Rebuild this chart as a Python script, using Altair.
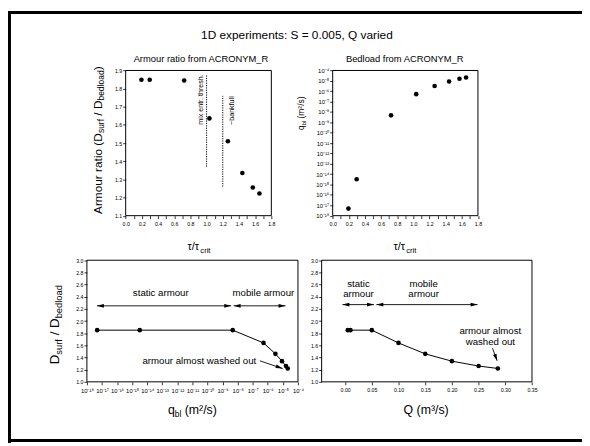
import altair as alt
import pandas as pd

# ---------------- values ----------------
tau_top = [0.195, 0.297, 0.723, 1.035, 1.263, 1.442, 1.571, 1.653]
armour_ratio_top = [1.849, 1.849, 1.845, 1.636, 1.510, 1.335, 1.255, 1.222]
bedload_top = [4.8e-18, 3.2e-15, 4.7e-9, 5.2e-7, 3.2e-6, 8.7e-6, 1.6e-5, 2.1e-5]
qbl_bottom = [4.8e-18, 3.2e-15, 4.7e-9, 5.2e-7, 3.2e-6, 8.7e-6, 1.6e-5, 2.1e-5]
armour_ratio_qbl = [1.85, 1.85, 1.85, 1.64, 1.46, 1.34, 1.26, 1.22]
discharge_Q = [0.005, 0.010, 0.05, 0.10, 0.15, 0.20, 0.25, 0.286]
armour_ratio_Q = [1.85, 1.85, 1.85, 1.64, 1.46, 1.34, 1.26, 1.22]

# axis ticks
tick_tau = [round(0.1 * i, 1) for i in range(19)]
tick_ratio_top = [round(1.1 + 0.1 * i, 1) for i in range(9)]
tick_ratio_bottom = [round(1.0 + 0.2 * i, 1) for i in range(11)]
log_exponents = list(range(-18, -3))
tick_log = [float(f"1e{e}") for e in log_exponents]
tick_Q = [round(0.05 * i, 2) for i in range(8)]

# annotations (data coordinates of their panels)
thresh_tau = [1.0, 1.2]
thresh_lo = [1.37, 1.26]
thresh_hi = [1.876, 1.76]
thresh_text = ["mix entr. thresh.", "~bankfull"]
thresh_text_tau = [0.934, 1.312]
thresh_text_y = [1.74, 1.679]

p3_arrow_from = [10 ** -17.33, 10 ** -8.26]
p3_arrow_to = [10 ** -8.43, 10 ** -4.83]
p3_arrow_y = [2.25, 2.25]
p3_labels = ["static armour", "mobile armour", "armour almost washed out"]
p3_label_x = [10 ** -13.1, 10 ** -6.29, 10 ** -10.54]
p3_label_y = [2.46, 2.46, 1.34]
p3_wash_from = [10 ** -6.53, 1.346]
p3_wash_to = [10 ** -5.02, 1.219]

p4_arrow_from = [-0.005, 0.0586]
p4_arrow_to = [0.054, 0.248]
p4_arrow_y = [2.27, 2.27]
p4_labels = ["static", "armour", "mobile", "armour", "armour almost", "washed out"]
p4_label_x = [0.025, 0.025, 0.147, 0.147, 0.272, 0.272]
p4_label_y = [2.606, 2.444, 2.606, 2.444, 1.832, 1.649]
p4_wash_from = [0.276, 1.552]
p4_wash_to = [0.2847, 1.346]

# ---------------- layout ----------------
W, H = 582, 438
FONT = "Liberation Sans"
P = {
    "p1": dict(x0=119.3, x1=267.0, yb=207.5, yt=60.3),
    "p2": dict(x0=329.2, x1=476.5, yb=207.5, yt=60.3),
    "p3": dict(x0=80.0, x1=294.0, yb=376.0, yt=252.7),
    "p4": dict(x0=318.0, x1=531.3, yb=376.0, yt=252.7),
}


def lin(dom, rng):
    return alt.Scale(domain=dom, range=rng, nice=False, zero=False)


def logs(dom, rng):
    return alt.Scale(type="log", domain=dom, range=rng, nice=False)


S = {
    "p1": (lin([0, 1.8], [P["p1"]["x0"], P["p1"]["x1"]]), lin([1.1, 1.9], [P["p1"]["yb"], P["p1"]["yt"]])),
    "p2": (lin([0, 1.8], [P["p2"]["x0"], P["p2"]["x1"]]), logs([1e-18, 1e-4], [P["p2"]["yb"], P["p2"]["yt"]])),
    "p3": (logs([1e-18, 1e-4], [P["p3"]["x0"], P["p3"]["x1"]]), lin([1.0, 3.0], [P["p3"]["yb"], P["p3"]["yt"]])),
    "p4": (lin([-0.044, 0.35], [P["p4"]["x0"], P["p4"]["x1"]]), lin([1.0, 3.0], [P["p4"]["yb"], P["p4"]["yt"]])),
}
DOM = {
    "p1": ([0, 1.8], [1.1, 1.9]),
    "p2": ([0, 1.8], [1e-18, 1e-4]),
    "p3": ([1e-18, 1e-4], [1.0, 3.0]),
    "p4": ([-0.044, 0.35], [1.0, 3.0]),
}

SUP = str.maketrans("-0123456789", "⁻⁰¹²³⁴⁵⁶⁷⁸⁹")
log_expr = "'10" + str(log_exponents[-1]).translate(SUP) + "'"
for e in reversed(log_exponents[:-1]):
    log_expr = f"datum.value < {10 ** (e + 0.5):.3e} ? '10{str(e).translate(SUP)}' : ({log_expr})"

AX = dict(grid=False, domain=False, ticks=True, tickSize=3, tickWidth=0.8, tickColor="black",
          labelColor="black", labelFont=FONT, labelOverlap=False,
          labelFlush=False, labelBound=False, title=None)


def xaxis(pn, values, fs=5.3, **kw):
    return alt.Axis(orient="bottom", offset=P[pn]["yb"] - H, values=values, labelPadding=2.5,
                    labelFontSize=fs, **AX, **kw)


def yaxis(pn, values, fs=5.3, **kw):
    return alt.Axis(orient="left", offset=-P[pn]["x0"], values=values, labelPadding=1,
                    labelFontSize=fs, **AX, **kw)


tau_expr = "round(datum.value*10) % 2 == 0 ? format(datum.value, '.1f') : ''"

layers = []

# ---- panel frames ----
for pn in ["p1", "p2", "p3", "p4"]:
    (xd, yd), (xs, ys) = DOM[pn], S[pn]
    fdf = pd.DataFrame({"a": [xd[0]], "b": [xd[1]], "c": [yd[0]], "d": [yd[1]]})
    layers.append(alt.Chart(fdf).mark_rect(filled=False, stroke="black", strokeWidth=1).encode(
        x=alt.X("a:Q", scale=xs, axis=None), x2="b:Q",
        y=alt.Y("c:Q", scale=ys, axis=None), y2="d:Q"))

# ---- panel 1: armour ratio vs tau ----
x1s, y1s = S["p1"]
d1 = pd.DataFrame({"tau": tau_top, "ratio": armour_ratio_top})
layers.append(alt.Chart(d1).mark_circle(size=22, color="black", opacity=1).encode(
    x=alt.X("tau:Q", scale=x1s, axis=xaxis("p1", tick_tau, labelExpr=tau_expr)),
    y=alt.Y("ratio:Q", scale=y1s, axis=yaxis("p1", tick_ratio_top, format=".1f"))))
dth = pd.DataFrame({"tau": thresh_tau, "lo": thresh_lo, "hi": thresh_hi})
layers.append(alt.Chart(dth).mark_rule(color="black", strokeWidth=1, strokeDash=[1.2, 1.2]).encode(
    x=alt.X("tau:Q", scale=x1s, axis=None),
    y=alt.Y("lo:Q", scale=y1s, axis=None), y2="hi:Q"))
dtt = pd.DataFrame({"tau": thresh_text_tau, "y": thresh_text_y, "t": thresh_text})
layers.append(alt.Chart(dtt).mark_text(angle=270, align="center", baseline="middle", font=FONT,
                                       fontSize=7.2, color="black").encode(
    x=alt.X("tau:Q", scale=x1s, axis=None), y=alt.Y("y:Q", scale=y1s, axis=None), text="t:N"))

# ---- panel 2: bedload vs tau ----
x2s, y2s = S["p2"]
d2 = pd.DataFrame({"tau": tau_top, "qbl": bedload_top})
layers.append(alt.Chart(d2).mark_circle(size=22, color="black", opacity=1).encode(
    x=alt.X("tau:Q", scale=x2s, axis=xaxis("p2", tick_tau, labelExpr=tau_expr)),
    y=alt.Y("qbl:Q", scale=y2s, axis=yaxis("p2", tick_log, fs=6, labelExpr=log_expr))))

ARROW = "M 0 0 L -2 -0.55 L -2 0.55 Z"


def arrow_layers(xs, ys, x_from, x_to, y_from, y_to, heads):
    df = pd.DataFrame({"x": x_from, "x2": x_to, "y": y_from, "y2": y_to})
    out = [alt.Chart(df).mark_rule(color="black", strokeWidth=0.9).encode(
        x=alt.X("x:Q", scale=xs, axis=None), x2="x2:Q",
        y=alt.Y("y:Q", scale=ys, axis=None), y2="y2:Q")]
    hdf = pd.DataFrame(heads, columns=["x", "y", "ang"])
    out.append(alt.Chart(hdf).mark_point(shape=ARROW, filled=True, size=49, color="black",
                                         opacity=1, strokeWidth=0).encode(
        x=alt.X("x:Q", scale=xs, axis=None), y=alt.Y("y:Q", scale=ys, axis=None),
        angle=alt.Angle("ang:Q", scale=None)))
    return out


# ---- panel 3: armour ratio vs qbl ----
x3s, y3s = S["p3"]
d3 = pd.DataFrame({"qbl": qbl_bottom, "ratio": armour_ratio_qbl})
layers.append(alt.Chart(d3).mark_line(color="black", strokeWidth=1).encode(
    x=alt.X("qbl:Q", scale=x3s, axis=None), y=alt.Y("ratio:Q", scale=y3s, axis=None)))
layers.append(alt.Chart(d3).mark_circle(size=22, color="black", opacity=1).encode(
    x=alt.X("qbl:Q", scale=x3s, axis=xaxis("p3", tick_log, fs=6, labelExpr=log_expr)),
    y=alt.Y("ratio:Q", scale=y3s, axis=yaxis("p3", tick_ratio_bottom, format=".1f"))))
heads3 = []
for a, b, y in zip(p3_arrow_from, p3_arrow_to, p3_arrow_y):
    heads3 += [[a, y, 180], [b, y, 0]]
heads3.append([p3_wash_to[0], p3_wash_to[1], 18.6])
layers += arrow_layers(x3s, y3s, p3_arrow_from + [p3_wash_from[0]], p3_arrow_to + [p3_wash_to[0]],
                       p3_arrow_y + [p3_wash_from[1]], p3_arrow_y + [p3_wash_to[1]], heads3)
d3t = pd.DataFrame({"x": p3_label_x, "y": p3_label_y, "t": p3_labels})
layers.append(alt.Chart(d3t).mark_text(align="center", baseline="middle", font=FONT, fontSize=9.8,
                                       color="black").encode(
    x=alt.X("x:Q", scale=x3s, axis=None), y=alt.Y("y:Q", scale=y3s, axis=None), text="t:N"))

# ---- panel 4: armour ratio vs Q ----
x4s, y4s = S["p4"]
d4 = pd.DataFrame({"Q": discharge_Q, "ratio": armour_ratio_Q})
layers.append(alt.Chart(d4).mark_line(color="black", strokeWidth=1).encode(
    x=alt.X("Q:Q", scale=x4s, axis=None), y=alt.Y("ratio:Q", scale=y4s, axis=None)))
layers.append(alt.Chart(d4).mark_circle(size=22, color="black", opacity=1).encode(
    x=alt.X("Q:Q", scale=x4s, axis=xaxis("p4", tick_Q, format=".2f")),
    y=alt.Y("ratio:Q", scale=y4s, axis=yaxis("p4", tick_ratio_bottom, format=".1f"))))
heads4 = []
for a, b, y in zip(p4_arrow_from, p4_arrow_to, p4_arrow_y):
    heads4 += [[a, y, 180], [b, y, 0]]
heads4.append([p4_wash_to[0], p4_wash_to[1], 69.7])
layers += arrow_layers(x4s, y4s, p4_arrow_from + [p4_wash_from[0]], p4_arrow_to + [p4_wash_to[0]],
                       p4_arrow_y + [p4_wash_from[1]], p4_arrow_y + [p4_wash_to[1]], heads4)
d4t = pd.DataFrame({"x": p4_label_x, "y": p4_label_y, "t": p4_labels})
layers.append(alt.Chart(d4t).mark_text(align="center", baseline="middle", font=FONT, fontSize=9.8,
                                       color="black").encode(
    x=alt.X("x:Q", scale=x4s, axis=None), y=alt.Y("y:Q", scale=y4s, axis=None), text="t:N"))

# ---- titles and axis titles (with sub/superscripts) ----
EM = {" ": 278, "(": 333, ")": 333, "/": 278, ".": 278, ",": 278, ":": 278, "=": 584, "~": 584,
      "_": 556, "A": 667, "C": 722, "D": 722, "M": 833, "N": 722, "O": 778, "Q": 778, "R": 722,
      "S": 667, "Y": 667, "a": 556, "b": 556, "c": 500, "d": 556, "e": 556, "f": 278, "h": 556,
      "i": 222, "k": 500, "l": 222, "m": 833, "n": 556, "o": 556, "p": 556, "q": 556, "r": 333,
      "s": 500, "t": 278, "u": 556, "v": 500, "w": 722, "x": 500, "τ": 450, "²": 333, "³": 333}


def tw(s, size):
    return sum(EM.get(c, 556) for c in s) / 1000.0 * size


def composite(segments, along, base, rotate=False):
    total = sum(tw(t, s) for t, s, _ in segments)
    pos = -total / 2
    rows = []
    for t, s, d in segments:
        lead = len(t) - len(t.lstrip(" "))
        p = pos + tw(" " * lead, s)
        txt = t.strip(" ")
        if rotate:
            rows.append(dict(text=txt, x=base + d, y=along - p, size=s, angle=270))
        else:
            rows.append(dict(text=txt, x=along + p, y=base + d, size=s, angle=0))
        pos += tw(t, s)
    return rows


rows = []
rows += composite([("1D experiments: S = 0.005, Q varied", 12, 0)], 293, 28.7)
rows += composite([("Armour ratio from ACRONYM_R", 9.5, 0)], 196, 51.5)
rows += composite([("Bedload from ACRONYM_R", 9.5, 0)], 402, 51.5)
rows += composite([("τ/τ", 11, 0), ("crit", 7.7, 2.8)], 193.7, 242.5)
rows += composite([("τ/τ", 11, 0), ("crit", 7.7, 2.8)], 402.5, 242.5)
rows += composite([("Armour ratio (D", 12, 0), ("surf", 8.6, 2), (" / D", 12, 0),
                   ("bedload", 8.6, 2), (")", 12, 0)], 131, 95.3, rotate=True)
rows += composite([("q", 8.5, 0), ("bl", 6, 1.8), (" (m²/s)", 8.5, 0)], 103.7, 300, rotate=True)
rows += composite([("D", 13.5, 0), ("surf", 9.5, 3.5), (" / D", 13.5, 0), ("bedload", 9.5, 3.5)],
                  318, 51.3, rotate=True)
rows += composite([("q", 12.5, 0), ("bl", 8.5, 3), (" (m²/s)", 12.5, 0)], 187, 408.4)
rows += composite([("Q (m³/s)", 12.5, 0)], 424, 408.4)
tdf = pd.DataFrame(rows)
layers.append(alt.Chart(tdf).mark_text(align="left", baseline="alphabetic", font=FONT, color="black").encode(
    x=alt.X("x:Q", scale=None, axis=None), y=alt.Y("y:Q", scale=None, axis=None),
    text="text:N", size=alt.Size("size:Q", scale=None, legend=None),
    angle=alt.Angle("angle:Q", scale=None)))

# ---- outer frame ----
fr = pd.DataFrame({"x": [1.5, 0, 0], "x2": [1.5, W, W], "y": [0, 1.5, 435.5], "y2": [H, 1.5, 435.5]})
layers.append(alt.Chart(fr).mark_rule(color="black", strokeWidth=3).encode(
    x=alt.X("x:Q", scale=None, axis=None), x2="x2:Q",
    y=alt.Y("y:Q", scale=None, axis=None), y2="y2:Q"))

chart = alt.layer(*layers).resolve_scale(x="independent", y="independent").properties(
    width=W, height=H, autosize=alt.AutoSizeParams(type="none"), padding=0
).configure_view(strokeWidth=0)

chart.save("out.html", embed_options={"renderer": "svg", "actions": False})
